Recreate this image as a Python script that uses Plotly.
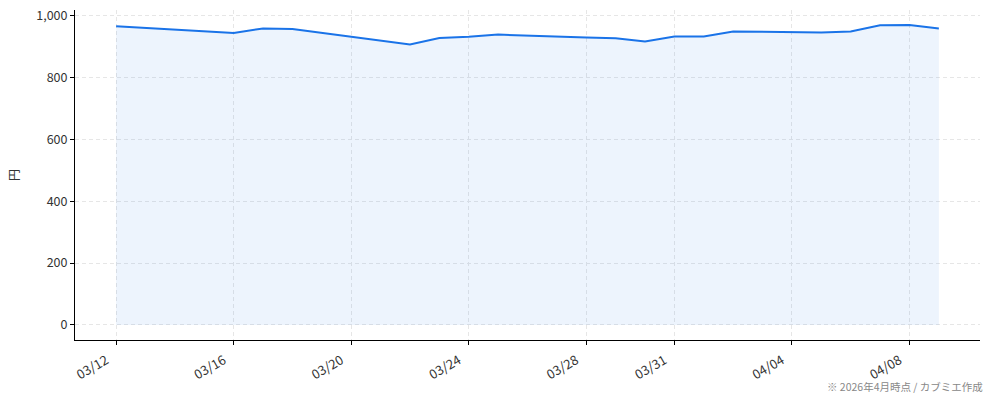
import plotly.graph_objects as go

dates = ["2026-03-12", "2026-03-15", "2026-03-16", "2026-03-17", "2026-03-18",
         "2026-03-22", "2026-03-23", "2026-03-24", "2026-03-25", "2026-03-28",
         "2026-03-29", "2026-03-30", "2026-03-31", "2026-04-01", "2026-04-02",
         "2026-04-05", "2026-04-06", "2026-04-07", "2026-04-08", "2026-04-09"]
prices = [965, 947, 943, 958, 956,
          906, 927, 931, 938, 929,
          926, 916, 932, 932, 948,
          945, 948, 968, 969, 958]

tick_dates = ["2026-03-12", "2026-03-16", "2026-03-20", "2026-03-24",
              "2026-03-28", "2026-03-31", "2026-04-04", "2026-04-08"]
tick_labels = ["03/12", "03/16", "03/20", "03/24", "03/28", "03/31", "04/04", "04/08"]
y_ticks = [0, 200, 400, 600, 800, 1000]
y_labels = ["0", "200", "400", "600", "800", "1,000"]

FONT = "Noto Sans CJK JP"
LINE = "#1a73e8"

fig = go.Figure()
fig.add_trace(go.Scatter(
    x=dates, y=prices, mode="lines",
    line=dict(color=LINE, width=2),
    fill="tozeroy", fillcolor="rgba(26,115,232,0.08)",
    showlegend=False,
))

fig.update_layout(
    width=994, height=400,
    margin=dict(l=75, r=14, t=10, b=60),
    paper_bgcolor="white", plot_bgcolor="white",
    font=dict(family=FONT, size=12, color="#333333"),
    xaxis=dict(
        type="date", automargin=False,
        range=["2026-03-10 14:24", "2026-04-10 09:36"],
        tickvals=tick_dates, ticktext=tick_labels, tickangle=-30,
        ticklabelshift=-10, ticklabelstandoff=3,
        showline=True, linecolor="black", linewidth=1,
        ticks="outside", ticklen=4, tickcolor="black",
        showgrid=True, gridcolor="#e6e6e6", griddash="4px,3px", gridwidth=1,
        zeroline=False, mirror=False,
        tickfont=dict(size=13, color="#333333"),
    ),
    yaxis=dict(
        automargin=False,
        range=[-48.5, 1017.5],
        tickvals=y_ticks, ticktext=y_labels,
        showline=True, linecolor="black", linewidth=1,
        ticks="outside", ticklen=4, tickcolor="black",
        showgrid=True, gridcolor="#e6e6e6", griddash="4px,3px", gridwidth=1,
        zeroline=False, mirror=False,
        title=dict(text="円", standoff=14, font=dict(size=12, color="#333333")),
        tickfont=dict(size=12.5, color="#333333"),
    ),
    annotations=[dict(
        text="※ 2026年4月時点 / カブミエ作成",
        xref="paper", yref="paper", x=1.0 + 5/905, y=-37/330,
        xanchor="right", yanchor="top", showarrow=False,
        font=dict(size=10.5, color="#888888", family=FONT),
    )],
)

fig.write_html("out.html",
               config={"displayModeBar": False},
               post_script="document.body.style.margin='0';document.body.style.overflow='hidden';")
